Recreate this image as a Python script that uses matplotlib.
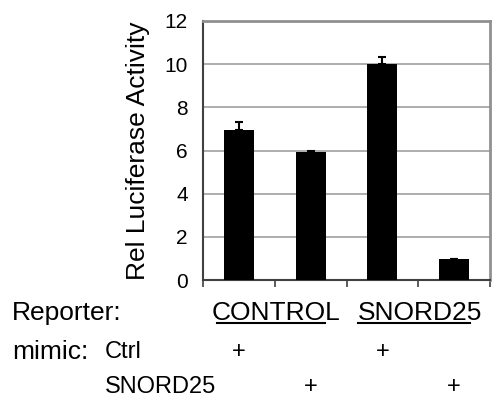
import matplotlib
matplotlib.use("Agg")
import matplotlib.pyplot as plt

plt.rcParams['font.family'] = ['Liberation Sans', 'DejaVu Sans']

conditions = ["CONTROL+Ctrl", "CONTROL+SNORD25", "SNORD25+Ctrl", "SNORD25+SNORD25"]
values = [6.95, 5.93, 10.03, 0.95]
errors = [0.35, 0.05, 0.28, 0.02]
yticks = [0, 2, 4, 6, 8, 10, 12]
reporters = ["CONTROL", "SNORD25"]
mimic_ctrl = ["+", "", "+", ""]
mimic_snord = ["", "+", "", "+"]

W, H = 498, 403
fig = plt.figure(figsize=(W / 100, H / 100), dpi=100)
ax = fig.add_axes([203 / W, 1 - 280 / H, (490 - 203) / W, (280 - 21) / H])

x = list(range(len(values)))
ax.bar(x, values, width=0.42, color='black', zorder=3)
ax.errorbar(x, values, yerr=[[0] * len(errors), errors], fmt='none',
            ecolor='black', elinewidth=1.5, capsize=3, capthick=1.5, zorder=4)

ax.set_xlim(-0.5, 3.5)
ax.set_ylim(0, 12)
ax.set_yticks(yticks)
ax.set_yticklabels([str(t) for t in yticks], fontsize=15)
ax.yaxis.grid(True, color='#a0a0a0', linewidth=1.2, zorder=0)
ax.set_xticks([-0.5, 0.5, 1.5, 2.5, 3.5])
ax.set_xticklabels([])
ax.tick_params(axis='x', direction='out', length=5, width=1.2, color='#404040')
ax.tick_params(axis='y', direction='out', length=0, pad=11)

for s in ['left', 'bottom']:
    ax.spines[s].set_color('#404040')
    ax.spines[s].set_linewidth(1.5)
for s in ['top', 'right']:
    ax.spines[s].set_color('#909090')
    ax.spines[s].set_linewidth(2)

ax.set_ylabel("Rel Luciferase Activity", fontsize=19, labelpad=10)

# Annotation rows below the axis (figure pixel coordinates)
def fx(px):
    return px / W

def fy(py):
    return 1 - py / H

fig.text(fx(12), fy(313), "Reporter:", fontsize=19, va='center', ha='left')
rep_x = [276, 420]
for rx, name in zip(rep_x, reporters):
    fig.text(fx(rx), fy(313), name, fontsize=19, va='center', ha='center')
# underlines
fig.add_artist(plt.Line2D([fx(217), fx(325)], [fy(323), fy(323)], color='black', lw=1.5))
fig.add_artist(plt.Line2D([fx(358), fx(470)], [fy(323), fy(323)], color='black', lw=1.5))

fig.text(fx(12), fy(352), "mimic:", fontsize=19, va='center', ha='left')
fig.text(fx(105), fy(352), "Ctrl", fontsize=17, va='center', ha='left')
fig.text(fx(105), fy(387), "SNORD25", fontsize=17, va='center', ha='left')

for xi, c1, c2 in zip(x, mimic_ctrl, mimic_snord):
    xd = ax.transData.transform((xi, 0))[0]
    if c1:
        fig.text(xd / W, fy(352), c1, fontsize=17, va='center', ha='center')
    if c2:
        fig.text(xd / W, fy(387), c2, fontsize=17, va='center', ha='center')

fig.savefig("out.png", dpi=100)
